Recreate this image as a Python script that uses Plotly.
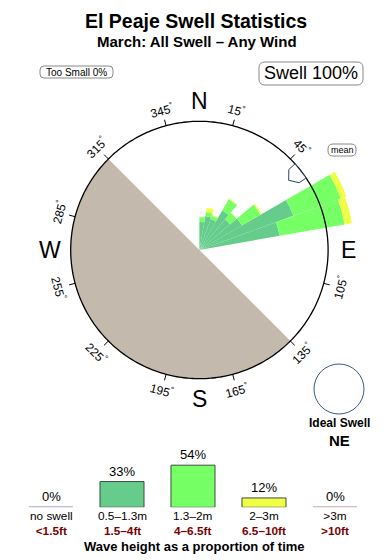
import numpy as np
import plotly.graph_objects as go

# ---------------- data ----------------
title = "El Peaje Swell Statistics"
subtitle = "March: All Swell – Any Wind"

# rose: direction bins (centre, deg) and stacked band lengths (compass ring = 100)
dir_bins = [5, 15, 25, 35, 45, 55, 65, 75]
bin_width = 10
band_small = [21.8, 26.8, 25.6, 35.4, 31.1, 38.1, 77.7, 63.3]   # 0.5-1.3m
band_mid = [3.9, 3.1, 2.7, 10.1, 6.6, 16.7, 39.3, 51.3]         # 1.3-2m
band_big = [0.2, 3.5, 0.8, 0.6, 0.4, 1.2, 4.6, 5.8]             # 2-3m
land_centre = 225
land_width = 180
mean_dir = 52

tick_angles = [15, 45, 105, 135, 165, 195, 225, 255, 285, 315, 345]
cardinals = ["N", "E", "S", "W"]
cardinal_angles = [0, 90, 180, 270]

legend_cats = ["no swell", "0.5–1.3m", "1.3–2m", "2–3m", ">3m"]
legend_feet = ["<1.5ft", "1.5–4ft", "4–6.5ft", "6.5–10ft", ">10ft"]
legend_pct = [0, 33, 54, 12, 0]
too_small_pct = 0
swell_pct = 100
ideal_dir = "NE"

# ---------------- style / geometry ----------------
W, H = 390, 560
FONT = "Liberation Sans, Arial, Helvetica, sans-serif"
CX, CY = 199.4, 250.0          # compass centre (px from top-left)
RING_PX = 128.7                # compass ring radius (px)
RING = 100.0                   # ring radius in rose units
RMAX = 128.0                   # radial range of the polar subplot
K = RING_PX / RING
RPOL = RMAX * K

C_SMALL = "#66cc8c"
C_MID = "#77ff66"
C_BIG = "#eeff44"
C_LAND = "#c4b9ad"
C_NONE = "#a8a8c8"
C_HUGE = "#c8a8a0"
C_FEET = "#7a0000"
leg_fill = [C_NONE, C_SMALL, C_MID, C_BIG, C_HUGE]


def X(px):
    return px / W


def Y(py):
    return 1 - py / H


def pol_px(r, th):
    t = np.radians(th)
    return CX + r * K * np.sin(t), CY - r * K * np.cos(t)


fig = go.Figure()
polar_dom = dict(x=[X(CX - RPOL), X(CX + RPOL)], y=[Y(CY + RPOL), Y(CY - RPOL)])

# land sector
fig.add_trace(go.Barpolar(r=[RING], theta=[land_centre], width=[land_width],
                          marker=dict(color=C_LAND, line=dict(width=0)),
                          hoverinfo="skip"))
# rose (stacked)
for vals, col in [(band_small, C_SMALL), (band_mid, C_MID), (band_big, C_BIG)]:
    fig.add_trace(go.Barpolar(r=vals, theta=dir_bins, width=[bin_width] * len(dir_bins),
                              marker=dict(color=col, line=dict(width=0)),
                              hoverinfo="skip"))

# compass ring
ring_th = np.linspace(0, 360, 361)
fig.add_trace(go.Scatterpolar(r=[RING] * len(ring_th), theta=ring_th, mode="lines",
                              line=dict(color="black", width=1.3), hoverinfo="skip"))
# ticks
tr, tt = [], []
for a in tick_angles:
    tr += [RING, RING + 4.8, None]
    tt += [a, a, None]
fig.add_trace(go.Scatterpolar(r=tr, theta=tt, mode="lines",
                              line=dict(color="black", width=1), hoverinfo="skip"))
# mean direction arrow (pentagon pointing to the centre; offsets dr, dtheta)
arrow_off = [(0, -4.0), (-6.5, -4.0), (-12.0, 0), (-6.5, 4.0), (0, 4.0), (0, -4.0)]
fig.add_trace(go.Scatterpolar(r=[RING + d[0] for d in arrow_off],
                              theta=[mean_dir + d[1] for d in arrow_off],
                              mode="lines", fill="toself", fillcolor="white",
                              line=dict(color="#33455f", width=1), hoverinfo="skip"))

# legend bars
xs = list(range(len(legend_cats)))
fig.add_trace(go.Bar(x=xs, y=legend_pct, width=0.62,
                     marker=dict(color=leg_fill,
                                 line=dict(color="#3c4c3c", width=[1 if v > 0 else 0 for v in legend_pct])),
                     xaxis="x", yaxis="y", hoverinfo="skip"))
for i, v in enumerate(legend_pct):
    if v == 0:
        fig.add_trace(go.Scatter(x=[i - 0.31, i + 0.31], y=[0, 0], mode="lines",
                                 line=dict(color=leg_fill[i], width=2), hoverinfo="skip"))

ann = []


def txt(text, x, y, size, color="black", xref="paper", yref="paper", **kw):
    d = dict(text=text, x=x, y=y, xref=xref, yref=yref, showarrow=False,
             xanchor="center", yanchor="middle",
             font=dict(size=size, family=FONT, color=color))
    d.update(kw)
    ann.append(d)


# titles
txt("<b>%s</b>" % title, X(196), Y(21.5), 19.5)
txt("<b>%s</b>" % subtitle, X(197), Y(42), 15)
# box texts
txt("Too Small %d%%" % too_small_pct, X(76.5), Y(72), 10)
txt("Swell %d%%" % swell_pct, X(311), Y(73.5), 18)
txt("mean", X(342), Y(150), 9)
# degree labels
for a in tick_angles:
    px, py = pol_px(112.7, a)
    txt("%d<sup>°</sup>" % a, X(px), Y(py), 12, textangle=((a + 90) % 180) - 90)
# cardinal letters
for c, a in zip(cardinals, cardinal_angles):
    px, py = pol_px(115.8, a)
    txt(c, X(px), Y(py), 23)
# ideal swell
txt("<b>Ideal Swell</b>", X(339), Y(423), 12)
txt("<b>%s</b>" % ideal_dir, X(339), Y(440), 15)
# legend labels
for i, (c, f, v) in enumerate(zip(legend_cats, legend_feet, legend_pct)):
    txt("%d%%" % v, i, v, 13, xref="x", yref="y", yanchor="bottom", yshift=1)
    txt("%s<br><span style='color:%s'><b>%s</b></span>" % (c, C_FEET, f), i, Y(523.5), 11.8,
        xref="x")
txt("<b>Wave height as a proportion of time</b>", X(194.5), Y(546), 13)


def rrect(x0, y0, x1, y1, r):
    return ("M {a},{b} L {c},{b} Q {d},{b} {d},{e} L {d},{f} Q {d},{g} {c},{g} "
            "L {a},{g} Q {h},{g} {h},{f} L {h},{e} Q {h},{b} {a},{b} Z").format(
        a=X(x0 + r), b=Y(y0), c=X(x1 - r), d=X(x1), e=Y(y0 + r), f=Y(y1 - r),
        g=Y(y1), h=X(x0))


shapes = [
    dict(type="path", path=rrect(40, 66, 113, 78, 4), xref="paper", yref="paper",
         line=dict(color="#888888", width=1)),
    dict(type="path", path=rrect(259, 62, 363, 85, 6), xref="paper", yref="paper",
         line=dict(color="#888888", width=1)),
    dict(type="path", path=rrect(328, 144, 356, 156, 5), xref="paper", yref="paper",
         line=dict(color="#888888", width=1)),
    dict(type="circle", xref="paper", yref="paper", x0=X(314), x1=X(364), y0=Y(414), y1=Y(364),
         line=dict(color="#3a5a80", width=1)),
]

fig.update_layout(
    width=W, height=H, margin=dict(l=0, r=0, t=0, b=0),
    paper_bgcolor="white", plot_bgcolor="white", showlegend=False,
    font=dict(family=FONT),
    polar=dict(domain=polar_dom, bgcolor="rgba(0,0,0,0)", barmode="stack", bargap=0,
               radialaxis=dict(range=[0, RMAX], visible=False),
               angularaxis=dict(rotation=90, direction="clockwise", visible=False)),
    xaxis=dict(domain=[X(15.5), X(370.5)], range=[-0.5, 4.5], visible=False, fixedrange=True),
    yaxis=dict(domain=[Y(507.3), Y(507.3 - 46.8)], range=[0, 60], visible=False, fixedrange=True),
    annotations=ann, shapes=shapes, hovermode=False,
)

fig.write_html("out.html", config={"displayModeBar": False})
